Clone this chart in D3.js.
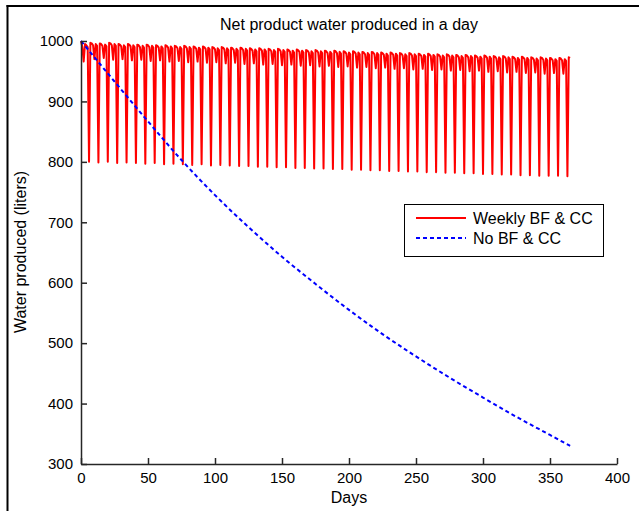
<!DOCTYPE html>
<html>
<head>
<meta charset="utf-8">
<script src="https://cdn.jsdelivr.net/npm/d3@7/dist/d3.min.js"></script>
<style>
  html, body { margin: 0; padding: 0; background: #fff; }
  svg { display: block; }
  text { font-family: "Liberation Sans", Arial, sans-serif; fill: #000; }
</style>
</head>
<body>
<svg id="chart" width="639" height="511"></svg>
<script>
// ---------------- DATA ----------------
const titleText = "Net product water produced in a day";
const xLabel = "Days";
const yLabel = "Water produced (liters)";
const seriesNames = ["Weekly BF & CC", "No BF & CC"];
const xTicks = [0, 50, 100, 150, 200, 250, 300, 350, 400];
const yTicks = [300, 400, 500, 600, 700, 800, 900, 1000];

// Weekly BF & CC : daily values, day 0 .. 365 (rows of 7 days, BF&CC day last in each row)
const weeklyValues = [
  1000,990,966,995,993,990,800,
  997,996,993,970,995,992,799,
  996,995,992,972,994,991,800,
  997,996,993,969,995,992,798,
  995,994,991,970,993,990,799,
  995,994,991,968,993,990,798,
  994,993,990,969,992,989,797,
  994,993,990,967,992,989,798,
  993,992,989,968,991,988,796,
  993,992,989,966,991,988,797,
  992,991,988,967,990,987,796,
  992,991,988,965,990,987,795,
  991,990,987,966,989,986,796,
  991,990,987,964,989,986,794,
  990,989,986,965,988,985,795,
  990,989,986,963,988,985,794,
  989,988,985,964,987,984,793,
  989,988,985,962,987,984,793,
  988,987,984,963,986,983,792,
  988,987,984,961,986,983,792,
  987,986,983,962,985,982,791,
  987,986,983,960,985,982,791,
  986,985,982,961,984,981,790,
  986,985,982,959,984,981,790,
  985,984,981,960,983,980,789,
  985,984,981,958,983,980,789,
  984,983,980,959,982,979,788,
  984,983,980,957,982,979,788,
  983,982,979,958,981,978,787,
  983,982,979,956,981,978,787,
  982,981,978,957,980,977,786,
  982,981,978,955,980,977,786,
  981,980,977,956,979,976,785,
  981,980,977,954,979,976,785,
  980,979,976,955,978,975,784,
  980,979,976,953,978,975,784,
  979,978,975,954,977,974,783,
  979,978,975,952,977,974,783,
  978,977,974,953,976,973,782,
  978,977,974,951,976,973,782,
  977,976,973,952,975,972,781,
  977,976,973,950,975,972,781,
  976,975,972,951,974,971,780,
  976,975,972,949,974,971,780,
  975,974,971,950,973,970,779,
  975,974,971,948,973,970,779,
  974,973,970,949,972,969,778,
  974,973,970,947,972,969,778,
  973,972,969,948,971,968,777,
  973,972,969,946,971,968,777,
  972,971,968,947,970,967,777,
  972,971,968,946,970,967,776,
  973,972
];

// No BF & CC
const noBFDays   = [0, 25, 50, 75, 100, 125, 150, 175, 200, 225, 250, 275, 300, 325, 350, 365];
const noBFValues = [1000, 933, 867, 803, 745, 692, 643, 598, 555, 515, 478, 443, 410, 378, 348, 330];

// ---------------- CHART ----------------
const svg = d3.select("#chart");
const W = 639, H = 511;
const x = d3.scaleLinear().domain([0, 400]).range([81, 617]);
const y = d3.scaleLinear().domain([300, 1000]).range([464, 41]);

// outer frame (top & left only visible)
svg.append("line").attr("x1", 6.5).attr("x2", W).attr("y1", 6).attr("y2", 6)
  .attr("stroke", "#000").attr("stroke-width", 2);
svg.append("line").attr("x1", 7.5).attr("x2", 7.5).attr("y1", 5).attr("y2", H)
  .attr("stroke", "#000").attr("stroke-width", 2);

// data lines
const weeklyData = weeklyValues.map((v, i) => ({ d: i, v }));
const noBFData = noBFDays.map((d, i) => ({ d, v: noBFValues[i] }));

svg.append("path").datum(weeklyData)
  .attr("fill", "none").attr("stroke", "#ff0000").attr("stroke-width", 2)
  .attr("stroke-linejoin", "round")
  .attr("d", d3.line().x(p => x(p.d)).y(p => y(p.v)));

svg.append("path").datum(noBFData)
  .attr("fill", "none").attr("stroke", "#0000ff").attr("stroke-width", 2)
  .attr("stroke-dasharray", "4,3")
  .attr("d", d3.line().curve(d3.curveMonotoneX).x(p => x(p.d)).y(p => y(p.v)));

// axes
const axisColor = "#262626";
const gx = svg.append("g").attr("transform", `translate(0,${y(300)})`)
  .call(d3.axisBottom(x).tickValues(xTicks).tickFormat(d3.format("d"))
    .tickSizeInner(-6).tickSizeOuter(0).tickPadding(8));
const gy = svg.append("g").attr("transform", `translate(${x(0)},0)`)
  .call(d3.axisLeft(y).tickValues(yTicks).tickFormat(d3.format("d"))
    .tickSizeInner(-6).tickSizeOuter(0).tickPadding(8));
[gx, gy].forEach(g => {
  g.select(".domain").attr("stroke", axisColor).attr("stroke-width", 1.5);
  g.selectAll(".tick line").attr("stroke", axisColor).attr("stroke-width", 1.5);
  g.selectAll(".tick text").attr("font-size", 15).attr("font-family", "Liberation Sans, Arial, sans-serif").attr("fill", "#000");
});

// title and labels
svg.append("text").attr("x", 349).attr("y", 30).attr("text-anchor", "middle")
  .attr("font-size", 16).text(titleText);
svg.append("text").attr("x", 349).attr("y", 503).attr("text-anchor", "middle")
  .attr("font-size", 16).text(xLabel);
svg.append("text").attr("transform", "translate(26,252) rotate(-90)").attr("text-anchor", "middle")
  .attr("font-size", 16).text(yLabel);

// legend
const lg = svg.append("g");
lg.append("rect").attr("x", 404.5).attr("y", 204.5).attr("width", 199).attr("height", 52)
  .attr("fill", "#fff").attr("stroke", "#000").attr("stroke-width", 1);
const legendItems = [
  { name: seriesNames[0], color: "#ff0000", dash: null, cy: 218 },
  { name: seriesNames[1], color: "#0000ff", dash: "4,3", cy: 238 }
];
legendItems.forEach(it => {
  lg.append("line").attr("x1", 416).attr("x2", 466).attr("y1", it.cy).attr("y2", it.cy)
    .attr("stroke", it.color).attr("stroke-width", 2)
    .attr("stroke-dasharray", it.dash);
  lg.append("text").attr("x", 473).attr("y", it.cy + 5.5).attr("font-size", 16).text(it.name);
});
</script>
</body>
</html>
